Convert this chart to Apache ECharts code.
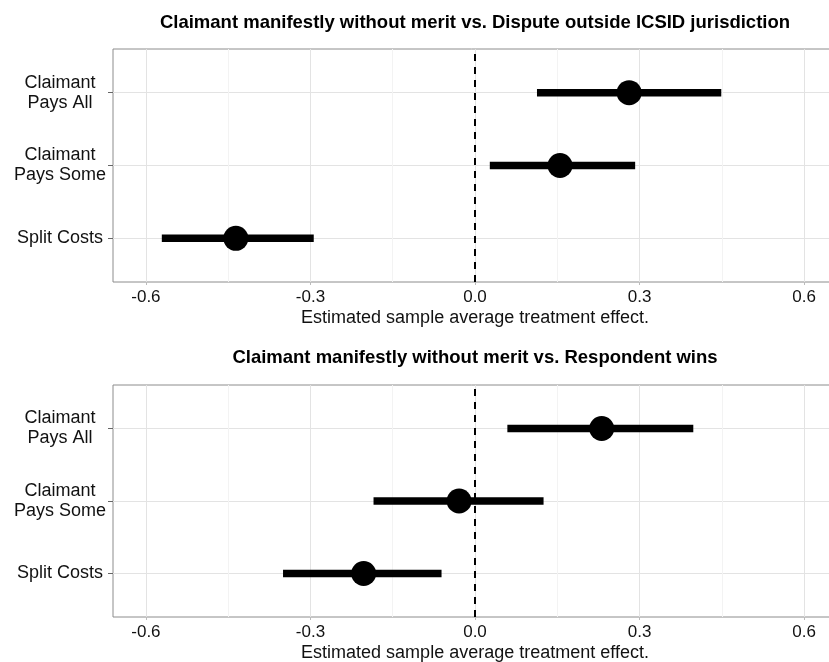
<!DOCTYPE html>
<html>
<head>
<meta charset="utf-8">
<script src="https://cdn.jsdelivr.net/npm/echarts@6/dist/echarts.min.js"></script>
<style>
html,body{margin:0;padding:0;background:#fff;}
#chart{width:829px;height:662px;}
</style>
</head>
<body>
<div id="chart"></div>
<script>
// Categories (bottom to top, at y = 1, 2, 3)
const categories = ['Split Costs', 'Claimant\nPays Some', 'Claimant\nPays All'];
const catPositions = [1, 2, 3];

// Panel titles
const panelTitles = [
  'Claimant manifestly without merit vs. Dispute outside ICSID jurisdiction',
  'Claimant manifestly without merit vs. Respondent wins'
];

// Top panel: estimate, lower, upper
const topEst = [-0.436, 0.155, 0.281];
const topLo  = [-0.571, 0.027, 0.113];
const topHi  = [-0.294, 0.292, 0.449];

// Bottom panel
const botEst = [-0.203, -0.029, 0.231];
const botLo  = [-0.350, -0.185, 0.059];
const botHi  = [-0.061, 0.125, 0.398];

// Axis ticks
const xTicks = [-0.6, -0.3, 0.0, 0.3, 0.6];
const xMinorTicks = [-0.45, -0.15, 0.15, 0.45];
const xName = 'Estimated sample average treatment effect.';

const FONT = '"Liberation Sans", Arial, sans-serif';

const grids = [
  {left: 113, top: 49, width: 724, height: 233},
  {left: 113, top: 385, width: 724, height: 232}
];

function xAxisFor(i) {
  return {
    type: 'value', gridIndex: i, min: -0.66, max: 0.66,
    name: xName, nameLocation: 'middle', nameGap: 27,
    nameTextStyle: {fontFamily: FONT, fontSize: 18, color: '#111'},
    axisLine: {show: false, onZero: false},
    axisTick: {show: true, length: 3, lineStyle: {color: '#bbb'}, customValues: xTicks},
    axisLabel: {customValues: xTicks, fontFamily: FONT, fontSize: 17, color: '#111', margin: 7,
      formatter: v => v.toFixed(1)},
    splitLine: {show: true, lineStyle: {color: '#e3e3e3', width: 1}}
  };
}
function yAxisFor(i) {
  return {
    type: 'value', gridIndex: i, min: 0.4, max: 3.6,
    axisLine: {show: false, onZero: false},
    axisTick: {show: true, length: 5, lineStyle: {color: '#666'}, customValues: catPositions},
    axisLabel: {customValues: catPositions, fontFamily: FONT, fontSize: 18, color: '#111',
      align: 'center', margin: 53, lineHeight: 20,
      formatter: v => categories[catPositions.indexOf(Math.round(v))] || ''},
    splitLine: {show: true, lineStyle: {color: '#e3e3e3', width: 1}}
  };
}

function barSeries(i, lo, hi) {
  return {
    type: 'custom', xAxisIndex: i, yAxisIndex: i, z: 3,
    data: catPositions.map((y, k) => [y, lo[k], hi[k]]),
    encode: {x: [1, 2], y: 0},
    renderItem: function (params, api) {
      const y = api.value(0);
      const s = api.coord([api.value(1), y]);
      const e = api.coord([api.value(2), y]);
      return {type: 'line', shape: {x1: s[0], y1: s[1], x2: e[0], y2: e[1]},
        style: {stroke: '#000', lineWidth: 7.5, lineCap: 'butt'}};
    }
  };
}
function pointSeries(i, est) {
  return {
    type: 'scatter', xAxisIndex: i, yAxisIndex: i, z: 4,
    symbol: 'circle', symbolSize: 25,
    itemStyle: {color: '#000', opacity: 1},
    data: catPositions.map((y, k) => [est[k], y]),
    markLine: {
      silent: true, symbol: 'none', z: 5,
      label: {show: false},
      lineStyle: {color: '#000', type: [7, 6], width: 2},
      data: [{xAxis: 0}]
    }
  };
}
function minorSeries(i) {
  return {
    type: 'line', xAxisIndex: i, yAxisIndex: i, data: [], z: 1,
    markLine: {
      silent: true, symbol: 'none', z: 1,
      label: {show: false},
      lineStyle: {color: '#f3f3f3', type: 'solid', width: 1},
      data: xMinorTicks.map(v => ({xAxis: v}))
    }
  };
}

const chart = echarts.init(document.getElementById('chart'), null, {renderer: 'canvas'});
chart.setOption({
  backgroundColor: '#fff',
  animation: false,
  title: [
    {text: panelTitles[0], left: 475, top: 13, textAlign: 'center', padding: 0,
      textStyle: {fontFamily: FONT, fontSize: 18.5, fontWeight: 'bold', color: '#000'}},
    {text: panelTitles[1], left: 475, top: 348, textAlign: 'center', padding: 0,
      textStyle: {fontFamily: FONT, fontSize: 18.5, fontWeight: 'bold', color: '#000'}}
  ],
  grid: grids.map(g => Object.assign({show: true, borderColor: '#8c8c8c', borderWidth: 1,
    backgroundColor: '#fff', containLabel: false, outerBoundsMode: 'none'}, g)),
  xAxis: [xAxisFor(0), xAxisFor(1)],
  yAxis: [yAxisFor(0), yAxisFor(1)],
  series: [
    minorSeries(0), minorSeries(1),
    barSeries(0, topLo, topHi), barSeries(1, botLo, botHi),
    pointSeries(0, topEst), pointSeries(1, botEst)
  ]
});
</script>
</body>
</html>
